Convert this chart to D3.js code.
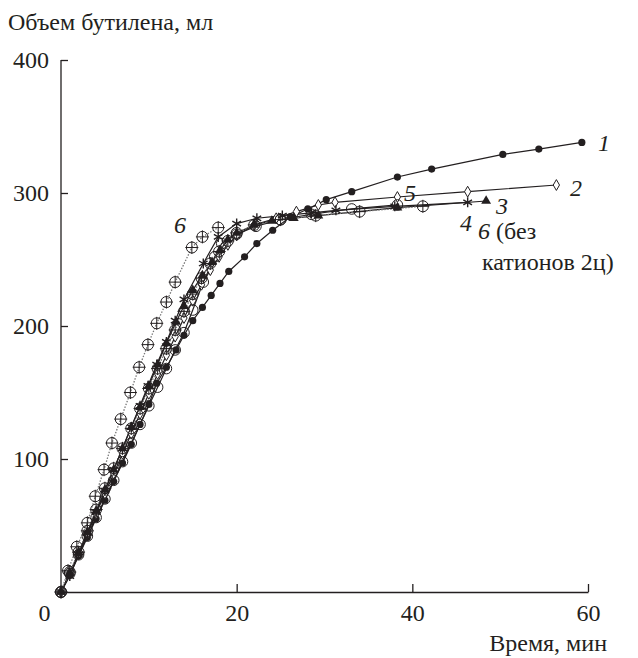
<!DOCTYPE html>
<html>
<head>
<meta charset="utf-8">
<script src="https://cdn.jsdelivr.net/npm/d3@7"></script>
<style>
  body { margin: 0; background: #fff; }
  svg, svg text { font-family: "Liberation Serif", "Times New Roman", Times, "DejaVu Serif", serif; }
  svg text { fill: #231f20; }
  .axis path, .axis line { stroke: #231f20; stroke-width: 1.3; }
</style>
</head>
<body>
<svg id="chart" width="638" height="658" font-family="Liberation Serif"></svg>
<script>
// time (min), butylene volume (ml) for each curve
var s1 = [[0,0],[1,13],[2,27],[3,41],[4,55],[5,69],[6,83],[7,97],[8,111],[9,126],[10,141],[10.9,157],[12,169],[13.1,182],[14,193],[15,204],[16.1,214],[17.1,223],[18.1,232],[19.1,241],[20.9,252],[22.3,262],[24.1,272],[26.1,282],[28.1,288],[30.2,295],[33.1,301],[38.3,312],[42.2,318],[50.3,329],[54.4,333],[59.3,338]];
var s2 = [[0,0],[1,14],[2,29],[3,44],[4,59],[5,74],[6,89],[7,104],[8,119],[9,134],[10,149],[11,164],[12,178],[13,192],[14,206],[15,219],[16,231],[17,242],[18,252],[19,261],[20,268],[22,276],[24.5,281],[26.8,286],[29.3,291],[31.2,293],[38.3,297],[46.3,301],[56.4,306]];
var s3 = [[0,0],[1,14],[2,30],[3,45],[4,61],[5,77],[6,92],[7,108],[8,124],[9,139],[10,155],[11,171],[12,187],[13.1,203],[14,215],[15,227],[16.1,238],[17.2,248],[18.1,257],[19,265],[20,270],[22,276],[24,279],[26.5,281],[29.3,283],[38.3,289],[48.4,294]];
var s4 = [[0,0],[1,12],[2,28],[3,44],[4,60],[5,76],[6,92],[7,108],[8,124],[9,140],[9.9,155],[10.9,171],[12,188],[13,204],[14,220],[16.2,247],[17.9,267],[20,277],[22.3,281],[25.2,283],[28.5,285],[31.3,287],[38,290],[46.3,293]];
var s5 = [[0,0],[1,14],[2,28],[3,42],[4,56],[5,70],[6,84],[7,98],[8,112],[9,126],[10,140],[11,154],[12,168],[13,182],[14,195],[15,212],[16.2,233],[17.5,252],[18.3,262],[20,269],[22.2,275],[25,280],[28.5,284],[33.1,288],[38.3,291]];
var s6 = [[0,0],[0.8,16],[1.8,34],[3,52],[3.9,72],[4.9,92],[5.8,112],[6.8,130],[7.9,150],[8.9,169],[9.9,186],[10.9,202],[12,218],[13,233],[14.9,259],[16.1,267],[17.9,274]];
var s6b = [[0,0],[1,15],[2,30],[3,46],[4,62],[5,78],[6,93],[7,108],[8,123],[9,138],[10,153],[11,168],[12,183],[13,197],[14,211],[15,224],[16,236],[17,247],[18,256],[19,264],[20,270],[22,276],[25,280],[29,283],[34,286],[41.2,290]];

var xTicks = [0, 20, 40, 60];
var yTicks = [100, 200, 300, 400];

var series = [
  { values: s1, marker: "dot", dash: null },
  { values: s2, marker: "diamond", dash: null },
  { values: s3, marker: "triangle", dash: null },
  { values: s5, marker: "circle", dash: null },
  { values: s6b, marker: "oplus", dash: "1.5,1.5", color: "#777" },
  { values: s4, marker: "star", dash: null },
  { values: s6, marker: "oplus", dash: "1.5,1.5", color: "#777" }
];

var FONT = "Liberation Serif, Times New Roman, serif";
var svg = d3.select("#chart");
var x = d3.scaleLinear().domain([0, 60]).range([61, 588]);
var y = d3.scaleLinear().domain([0, 400]).range([592, 60]);

// axes
svg.append("g")
  .attr("class", "axis")
  .attr("transform", "translate(0,592)")
  .call(d3.axisBottom(x).tickValues(xTicks).tickSizeInner(-8).tickSizeOuter(0).tickPadding(12))
  .call(function(g) {
    g.attr("font-family", FONT);
    g.selectAll("text").attr("font-size", 24).attr("dy", "0.71em");
    g.selectAll(".tick").filter(function(d) { return d === 0; }).select("line").remove();
    g.selectAll(".tick").filter(function(d) { return d === 0; }).select("text").attr("dx", -17);
  });

svg.append("g")
  .attr("class", "axis")
  .attr("transform", "translate(61,0)")
  .call(d3.axisLeft(y).tickValues(yTicks).tickSizeInner(-7).tickSizeOuter(0).tickPadding(12))
  .call(function(g) {
    g.attr("font-family", FONT);
    g.selectAll("text").attr("font-size", 24);
    g.select(".domain").attr("d", "M0," + y(400) + "V" + y(0));
  });

var line = d3.line()
  .x(function(d) { return x(d[0]); })
  .y(function(d) { return y(d[1]); });

// lines
svg.selectAll(".curve")
  .data(series)
  .enter()
  .append("path")
  .attr("class", "curve")
  .attr("d", function(d) { return line(d.values); })
  .attr("fill", "none")
  .attr("stroke", function(d) { return d.color || "#231f20"; })
  .attr("stroke-width", function(d) { return d.dash ? 1.3 : 1.2; })
  .attr("stroke-dasharray", function(d) { return d.dash; });

// markers
var symDiamond = d3.symbol().type(d3.symbolDiamond).size(34)();
var symTriangle = d3.symbol().type(d3.symbolTriangle).size(42)();
var symStar = d3.symbol().type(d3.symbolAsterisk).size(70)();

series.forEach(function(s) {
  var g = svg.append("g");
  var pts = g.selectAll("g")
    .data(s.values)
    .enter()
    .append("g")
    .attr("transform", function(d) { return "translate(" + x(d[0]) + "," + y(d[1]) + ")"; });
  if (s.marker === "dot") {
    pts.append("circle").attr("r", 3.6).attr("fill", "#231f20");
  } else if (s.marker === "diamond") {
    pts.append("path").attr("d", symDiamond).attr("fill", "#fff").attr("stroke", "#231f20").attr("stroke-width", 1);
  } else if (s.marker === "triangle") {
    pts.append("path").attr("d", symTriangle).attr("fill", "#231f20");
  } else if (s.marker === "circle") {
    pts.append("circle").attr("r", 5.3).attr("fill", "none").attr("stroke", "#231f20").attr("stroke-width", 1);
  } else if (s.marker === "star") {
    pts.append("path").attr("d", symStar).attr("fill", "none").attr("stroke", "#231f20").attr("stroke-width", 1.4);
  } else if (s.marker === "oplus") {
    pts.append("circle").attr("r", 5.5).attr("fill", "none").attr("stroke", "#231f20").attr("stroke-width", 1);
    pts.append("path").attr("d", "M-6.5,0H6.5M0,-6.5V6.5").attr("stroke", "#231f20").attr("stroke-width", 1);
  }
});

// titles
function txt(xp, yp) {
  return svg.append("text").attr("x", xp).attr("y", yp).attr("font-size", 24).attr("font-family", FONT);
}
txt(8, 30).text("Объем бутилена, мл");
txt(607, 651).attr("text-anchor", "end").text("Время, мин");

// curve labels
var labels = [
  { t: "1", x: 598, y: 151 },
  { t: "2", x: 570, y: 196 },
  { t: "5", x: 404, y: 201 },
  { t: "3", x: 496, y: 214 },
  { t: "4", x: 460, y: 231 },
  { t: "6", x: 174, y: 233 }
];
labels.forEach(function(l) {
  txt(l.x, l.y).attr("font-style", "italic").text(l.t);
});
var lbl6 = txt(478, 239);
lbl6.append("tspan").attr("font-style", "italic").text("6");
lbl6.append("tspan").text(" (без");
txt(482, 270).text("катионов 2ц)");
</script>
</body>
</html>
